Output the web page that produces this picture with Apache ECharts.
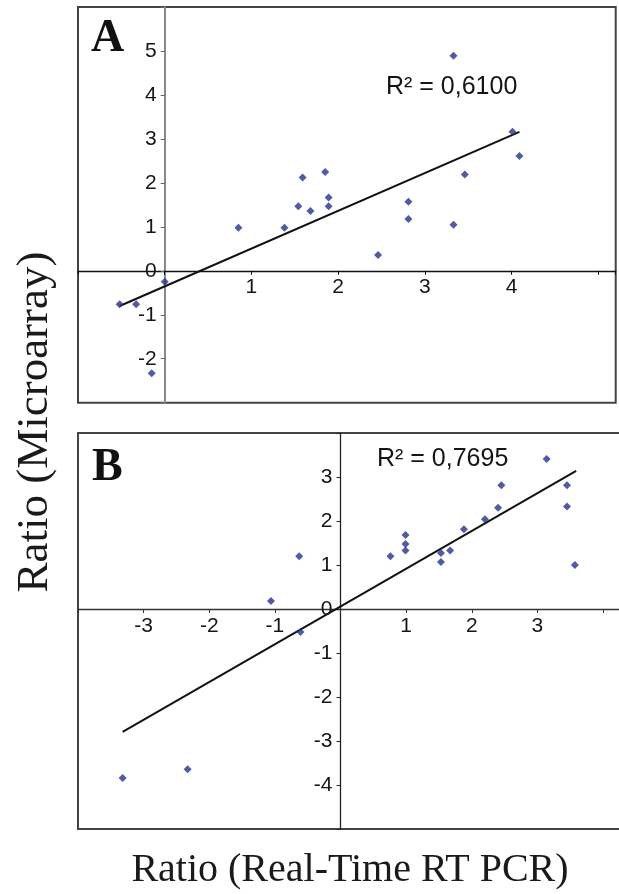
<!DOCTYPE html>
<html>
<head>
<meta charset="utf-8">
<script src="https://cdn.jsdelivr.net/npm/echarts@6/dist/echarts.min.js"></script>
<style>html,body{margin:0;padding:0;background:#fff;overflow:hidden}#c{width:619px;height:894px}</style>
</head>
<body>
<div id="c"></div>
<script>
// Panel A data (Real-Time RT PCR ratio, Microarray ratio)
const pointsA = [
  [3.33, 4.89], [4.01, 3.16], [4.09, 2.61], [3.46, 2.19], [1.59, 2.12],
  [1.85, 2.25], [1.89, 1.67], [1.54, 1.47], [1.68, 1.36], [1.89, 1.47],
  [2.81, 1.57], [2.81, 1.18], [3.33, 1.05], [0.85, 0.98], [1.38, 0.98],
  [2.46, 0.36], [0.00, -0.25], [-0.52, -0.76], [-0.33, -0.76], [-0.15, -2.33]
];
const trendA = [[-0.52, -0.80], [4.09, 3.16]];
const r2A = 'R\u00B2 = 0,6100';
const xTicksA = [1, 2, 3, 4];
const yTicksA = [-2, -1, 0, 1, 2, 3, 4, 5];

// Panel B data
const pointsB = [
  [3.14, 3.41], [2.45, 2.81], [3.45, 2.81], [3.45, 2.33], [2.40, 2.30],
  [2.20, 2.04], [1.88, 1.81], [0.99, 1.68], [0.99, 1.48], [0.99, 1.33],
  [1.67, 1.33], [1.53, 1.27], [1.53, 1.07], [0.76, 1.20], [3.57, 1.00],
  [-0.63, 1.20], [-1.06, 0.18], [-0.61, -0.52], [-3.32, -3.84], [-2.33, -3.64]
];
const trendB = [[-3.32, -2.79], [3.59, 3.14]];
const r2B = 'R\u00B2 = 0,7695';
const xTicksB = [-3, -2, -1, 1, 2, 3];
const yTicksB = [-4, -3, -2, -1, 0, 1, 2, 3];

const xTitle = 'Ratio (Real-Time RT PCR)';
const yTitle = 'Ratio (Microarray)';

// axis ranges
const xRangeA = [-1, 5.2], yRangeA = [-3, 6];
const xRangeB = [-4, 4.5], yRangeB = [-5, 4];

// grid layout (pixels)
const gA = {left: 78, top: 7, width: 537.7, height: 395.7};
const gB = {left: 78, top: 433, width: 557.9, height: 396};

const tickFont = {fontFamily: 'Liberation Sans, Arial, sans-serif', fontSize: 21, color: '#151515'};
const markerColor = '#27308f';

function fmt(list) { return v => list.includes(v) ? String(v) : ''; }
// offset that moves an axis from the grid edge to the other axis' zero
function zeroOffset(range, size) { return -((0 - range[0]) / (range[1] - range[0])) * size; }

const chart = echarts.init(document.getElementById('c'), null, {renderer: 'canvas'});
chart.setOption({
  animation: false,
  backgroundColor: '#fff',
  grid: [
    Object.assign({show: true, borderColor: '#444', borderWidth: 2, backgroundColor: 'transparent', outerBoundsMode: 'none', containLabel: false}, gA),
    Object.assign({show: true, borderColor: '#444', borderWidth: 2, backgroundColor: 'transparent', outerBoundsMode: 'none', containLabel: false}, gB)
  ],
  xAxis: [
    {gridIndex: 0, type: 'value', min: xRangeA[0], max: xRangeA[1], interval: 1, splitLine: {show: false},
     offset: zeroOffset(yRangeA, gA.height),
     axisLine: {onZero: false, lineStyle: {color: '#111', width: 1.3}},
     axisTick: {show: true, length: 4, lineStyle: {color: '#111'}},
     axisLabel: Object.assign({formatter: fmt(xTicksA), margin: 6}, tickFont)},
    {gridIndex: 1, type: 'value', min: xRangeB[0], max: xRangeB[1], interval: 1, splitLine: {show: false},
     offset: zeroOffset(yRangeB, gB.height),
     axisLine: {onZero: false, lineStyle: {color: '#333', width: 1.3}},
     axisTick: {show: true, length: 4, lineStyle: {color: '#333'}},
     axisLabel: Object.assign({formatter: fmt(xTicksB), margin: 7}, tickFont)}
  ],
  yAxis: [
    {gridIndex: 0, type: 'value', min: yRangeA[0], max: yRangeA[1], interval: 1, splitLine: {show: false},
     offset: zeroOffset(xRangeA, gA.width),
     axisLine: {onZero: false, lineStyle: {color: '#888', width: 2}},
     axisTick: {show: true, length: 4, lineStyle: {color: '#666'}},
     axisLabel: Object.assign({formatter: fmt(yTicksA), margin: 8}, tickFont)},
    {gridIndex: 1, type: 'value', min: yRangeB[0], max: yRangeB[1], interval: 1, splitLine: {show: false},
     offset: zeroOffset(xRangeB, gB.width),
     axisLine: {onZero: false, lineStyle: {color: '#222', width: 1.3}},
     axisTick: {show: true, length: 4, lineStyle: {color: '#222'}},
     axisLabel: Object.assign({formatter: fmt(yTicksB), margin: 8}, tickFont)}
  ],
  series: [
    {type: 'scatter', xAxisIndex: 0, yAxisIndex: 0, data: pointsA, symbol: 'diamond', symbolSize: 8, itemStyle: {color: markerColor}, z: 3},
    {type: 'line', xAxisIndex: 0, yAxisIndex: 0, data: trendA, showSymbol: false, symbol: 'none', lineStyle: {color: '#111', width: 2}, z: 2},
    {type: 'scatter', xAxisIndex: 1, yAxisIndex: 1, data: pointsB, symbol: 'diamond', symbolSize: 8, itemStyle: {color: markerColor}, z: 3},
    {type: 'line', xAxisIndex: 1, yAxisIndex: 1, data: trendB, showSymbol: false, symbol: 'none', lineStyle: {color: '#111', width: 2}, z: 2}
  ],
  graphic: [
    {type: 'text', left: 91, top: 16, style: {text: 'A', font: 'bold 46px "Liberation Serif", "Times New Roman", serif', fill: '#111'}},
    {type: 'text', left: 92, top: 445, style: {text: 'B', font: 'bold 46px "Liberation Serif", "Times New Roman", serif', fill: '#111'}},
    {type: 'text', left: 386, top: 75, style: {text: r2A, font: '25px "Liberation Sans", Arial, sans-serif', fill: '#151515'}},
    {type: 'text', left: 377, top: 447, style: {text: r2B, font: '25px "Liberation Sans", Arial, sans-serif', fill: '#151515'}},
    {type: 'text', x: 350, y: 870, style: {text: xTitle, font: '40px "Liberation Serif", "Times New Roman", serif', fill: '#1a1a1a', textAlign: 'center', textVerticalAlign: 'middle'}},
    {type: 'text', x: 35, y: 422, rotation: Math.PI / 2, style: {text: yTitle, font: '45px "Liberation Serif", "Times New Roman", serif', fill: '#1a1a1a', textAlign: 'center', textVerticalAlign: 'middle'}}
  ]
});
</script>
</body>
</html>
